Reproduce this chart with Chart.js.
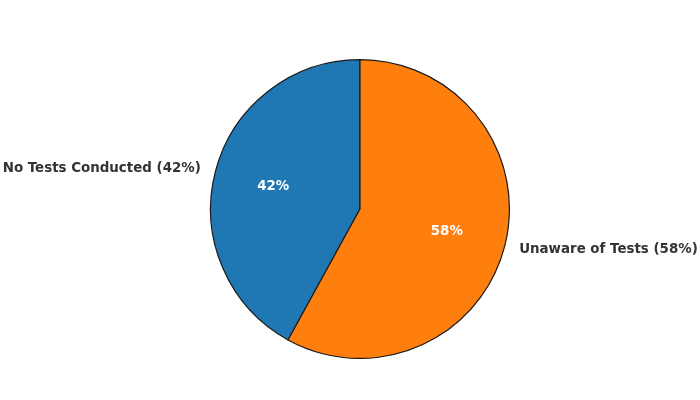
<!DOCTYPE html>
<html>
<head>
<meta charset="utf-8">
<script src="https://cdn.jsdelivr.net/npm/chart.js@4"></script>
<style>
  html, body { margin: 0; padding: 0; background: #fff; }
  #wrap { width: 700px; height: 400px; }
</style>
</head>
<body>
<div id="wrap"><canvas id="chart-pie"></canvas></div>
<script>
var labels = ["No Tests Conducted", "Unaware of Tests"];
var values = [42, 58];
var colors = ["#1f77b4", "#ff7f0e"];

var total = values.reduce(function (a, b) { return a + b; }, 0);

// draws the percent inside each slice and the name outside it
var sliceLabels = {
  id: "sliceLabels",
  afterDatasetsDraw: function (chart) {
    var ctx = chart.ctx;
    var meta = chart.getDatasetMeta(0);
    ctx.save();
    ctx.textBaseline = "middle";
    meta.data.forEach(function (arc, i) {
      var p = arc.getProps(["x", "y", "startAngle", "endAngle", "outerRadius"], true);
      var mid = (p.startAngle + p.endAngle) / 2;
      var pct = Math.round(values[i] / total * 100) + "%";
      var r1 = p.outerRadius * 0.6;
      ctx.font = "bold 13.4px 'DejaVu Sans'";
      ctx.fillStyle = "#ffffff";
      ctx.textAlign = "center";
      ctx.fillText(pct, p.x + Math.cos(mid) * r1, p.y + Math.sin(mid) * r1);
      var r2 = p.outerRadius * 1.1;
      var lx = p.x + Math.cos(mid) * r2;
      var ly = p.y + Math.sin(mid) * r2;
      ctx.fillStyle = "#333333";
      ctx.textAlign = Math.cos(mid) < 0 ? "right" : "left";
      ctx.fillText(labels[i] + " (" + pct + ")", lx, ly);
    });
    ctx.restore();
  }
};

new Chart(document.getElementById("chart-pie"), {
  type: "pie",
  data: {
    labels: labels,
    datasets: [{
      data: values,
      backgroundColor: colors,
      borderColor: "#1a1a1a",
      borderWidth: 1.2,
      hoverOffset: 0,
      offset: 0
    }]
  },
  options: {
    responsive: true,
    maintainAspectRatio: false,
    animation: false,
    events: [],
    rotation: -360 * values[0] / total,
    layout: {
      padding: { top: 59, bottom: 41, left: 210, right: 190 }
    },
    plugins: {
      legend: { display: false },
      tooltip: { enabled: false }
    }
  },
  plugins: [sliceLabels]
});
</script>
</body>
</html>
